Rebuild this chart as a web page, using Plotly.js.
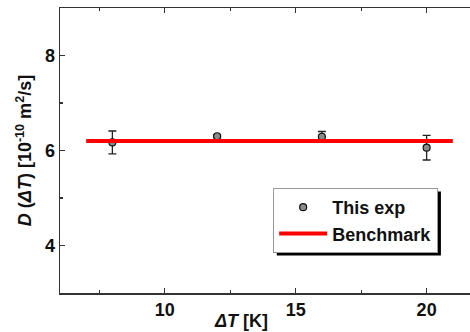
<!DOCTYPE html>
<html>
<head>
<meta charset="utf-8">
<script src="https://cdn.plot.ly/plotly-3.0.1.min.js"></script>
<style>
html,body{margin:0;padding:0;overflow:hidden;background:#fff;}
#chart{width:490px;height:332px;}
</style>
</head>
<body>
<div id="chart"></div>
<script>
// Data
var deltaT = [8, 12, 16, 20];
var diffCoef = [6.17, 6.30, 6.29, 6.06];
var diffErr = [0.24, 0.03, 0.11, 0.26];
var benchX = [7, 21];
var benchY = [6.2, 6.2];
var xTickVals = [10, 15, 20];
var yTickVals = [4, 6, 8];

var fam = 'Liberation Sans, Arial, sans-serif';
var font = {family: fam, size: 18, color: '#111', weight: 'bold'};

var traces = [
  {
    x: deltaT, y: diffCoef, name: 'This exp', type: 'scatter', mode: 'markers',
    marker: {size: 7, color: '#8a8a8a', line: {color: '#111', width: 1.2}},
    error_y: {type: 'data', array: diffErr, visible: true, color: '#222', thickness: 1.3, width: 4}
  },
  {
    x: benchX, y: benchY, name: 'Benchmark', type: 'scatter', mode: 'lines',
    line: {color: '#ff0000', width: 4}
  }
];

var L = 60, T = 8, W = 490, H = 332, R = 11.3, B = 39;
var pw = W - L - R, ph = H - T - B;
function px2x(p){ return (p - L) / pw; }
function py2y(p){ return (H - B - p) / ph; }

var layout = {
  width: W, height: H,
  margin: {l: L, r: R, t: T, b: B},
  paper_bgcolor: '#fff', plot_bgcolor: '#fff',
  font: font,
  showlegend: true,
  legend: {
    x: px2x(273), y: py2y(188), xanchor: 'left', yanchor: 'top',
    bgcolor: '#fff', bordercolor: '#999', borderwidth: 1,
    font: {family: fam, size: 18, color: '#111', weight: 'bold'},
    itemwidth: 48, tracegroupgap: 0
  },
  annotations: [{
    text: '<i>ΔT</i> [K]', xref: 'paper', yref: 'paper', showarrow: false,
    x: px2x(241), y: py2y(321), xanchor: 'center', yanchor: 'middle',
    font: {family: fam, size: 18, color: '#111', weight: 'bold'}
  }],
  xaxis: {
    range: [6, 22], tickvals: xTickVals, ticks: 'inside', ticklen: 5, tickwidth: 1.2, tickcolor: '#333',
    showline: true, linecolor: '#333', linewidth: 1.5, mirror: 'allticks', showgrid: false, zeroline: false,
    minor: {dtick: 2.5, tick0: 0, ticks: 'inside', ticklen: 3, tickcolor: '#333', showgrid: false},
    tickfont: font
  },
  yaxis: {
    range: [3, 9], tickvals: yTickVals, ticks: 'inside', ticklen: 5, tickwidth: 1.2, tickcolor: '#333',
    showline: true, linecolor: '#333', linewidth: 1.5, mirror: 'allticks', showgrid: false, zeroline: false,
    minor: {dtick: 1, tick0: 0, ticks: 'inside', ticklen: 3, tickcolor: '#333', showgrid: false},
    tickfont: font,
    title: {text: '<i>D</i> (<i>ΔT</i>) [10<sup>-10</sup> m<sup>2</sup>/s]', font: {family: fam, size: 18, color: '#111', weight: 'bold'}, standoff: 8}
  }
};

Plotly.newPlot('chart', traces, layout, {staticPlot: true, displayModeBar: false}).then(function(gd){
  // drop shadow behind the legend box, sized from the rendered legend
  var bg = gd.querySelector('.legend .bg');
  if (!bg) return;
  var r = bg.getBoundingClientRect();
  var c = gd.getBoundingClientRect();
  var x0 = r.left - c.left + 3, x1 = r.right - c.left + 3;
  var y0 = r.top - c.top + 3, y1 = r.bottom - c.top + 3;
  return Plotly.relayout(gd, {shapes: [{
    type: 'rect', xref: 'paper', yref: 'paper', layer: 'above',
    x0: px2x(x0), x1: px2x(x1), y0: py2y(y1), y1: py2y(y0),
    fillcolor: '#000', line: {width: 0}
  }]});
});
</script>
</body>
</html>
